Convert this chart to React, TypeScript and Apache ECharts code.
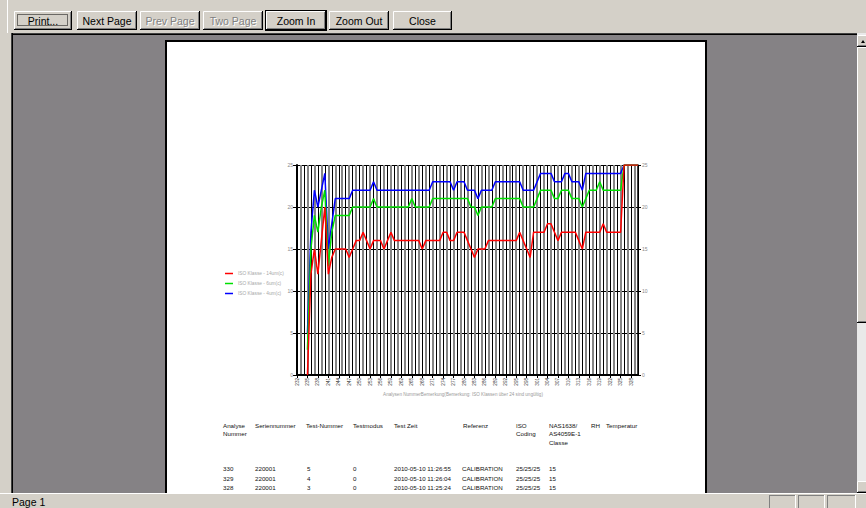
import React, { useEffect, useRef } from "react";
import * as echarts from "echarts";

// ---- data ----
const analyseNummer: string[] = [
  "232", "233", "234", "235", "236", "237", "238", "239", "240", "241",
  "242", "243", "244", "245", "246", "247", "248", "249", "250", "251",
  "252", "253", "254", "255", "256", "257", "258", "259", "260", "261",
  "262", "263", "264", "265", "266", "267", "268", "269", "270", "271",
  "272", "273", "274", "275", "276", "277", "278", "279", "280", "281",
  "282", "283", "284", "285", "286", "287", "288", "289", "290", "291",
  "292", "293", "294", "295", "296", "297", "298", "299", "300", "301",
  "302", "303", "304", "305", "306", "307", "308", "309", "310", "311",
  "312", "313", "314", "315", "316", "317", "318", "319", "320", "321",
  "322", "323", "324", "325", "326", "327", "328", "329", "330",
];

const iso14um: (number | null)[] = [
  null, null, null, 0, 12, 15, 12, 16, 20, 12,
  14, 15, 15, 15, 15, 14, 15, 16, 16, 17,
  16, 15, 16, 16, 16, 15, 16, 17, 16, 16,
  16, 16, 16, 16, 16, 16, 15, 16, 16, 16,
  16, 16, 17, 17, 16, 16, 17, 17, 17, 16,
  15, 14, 15, 15, 15, 16, 16, 16, 16, 16,
  16, 16, 16, 16, 17, 16, 15, 14, 17, 17,
  17, 17, 18, 18, 17, 16, 17, 17, 17, 17,
  17, 16, 15, 17, 17, 17, 17, 17, 18, 17,
  17, 17, 17, 17, 25, 25, 25, 25, 25,
];

const iso6um: (number | null)[] = [
  null, null, null, 3, 15, 19, 17, 20, 22, 13,
  17, 19, 19, 19, 19, 19, 20, 20, 20, 20,
  20, 20, 21, 20, 20, 20, 20, 20, 20, 20,
  20, 20, 20, 21, 20, 20, 20, 20, 20, 21,
  21, 21, 21, 21, 21, 21, 21, 21, 21, 21,
  20, 20, 19, 20, 20, 20, 20, 21, 21, 21,
  21, 21, 21, 21, 21, 20, 20, 20, 20, 21,
  22, 22, 22, 22, 21, 21, 22, 22, 22, 21,
  21, 21, 20, 21, 22, 22, 22, 23, 22, 22,
  22, 22, 22, 22, 25, 25, 25, 25, 25,
];

const iso4um: (number | null)[] = [
  null, null, null, 5, 17, 22, 20, 22, 24, 15,
  18, 21, 21, 21, 21, 21, 22, 22, 22, 22,
  22, 22, 23, 22, 22, 22, 22, 22, 22, 22,
  22, 22, 22, 22, 22, 22, 22, 22, 22, 23,
  23, 23, 23, 23, 23, 22, 23, 23, 23, 22,
  22, 22, 21, 22, 22, 22, 22, 23, 23, 23,
  23, 23, 23, 23, 23, 22, 22, 22, 22, 23,
  24, 24, 24, 24, 23, 23, 23, 24, 24, 23,
  23, 23, 22, 24, 24, 24, 24, 24, 24, 24,
  24, 24, 24, 24, 25, 25, 25, 25, 25,
];

const seriesNames: string[] = [
  "ISO Klasse - 14um(c)",
  "ISO Klasse - 6um(c)",
  "ISO Klasse - 4um(c)",
];

const xAxisTitle = "Analysen NummerBemerkung(Bemerkung: ISO Klassen über 24 sind ungültig)";

const tableHeaders: string[][] = [
  ["Analyse", "Nummer"],
  ["Seriennummer"],
  ["Test-Nummer"],
  ["Testmodus"],
  ["Test Zeit"],
  ["Referenz"],
  ["ISO", "Coding"],
  ["NAS1638/", "AS4059E-1", "Classe"],
  ["RH"],
  ["Temperatur"],
];

const tableRows: string[][] = [
  ["330", "220001", "5", "0", "2010-05-10 11:26:55", "CALIBRATION", "25/25/25", "15"],
  ["329", "220001", "4", "0", "2010-05-10 11:26:04", "CALIBRATION", "25/25/25", "15"],
  ["328", "220001", "3", "0", "2010-05-10 11:25:24", "CALIBRATION", "25/25/25", "15"],
];

const toolbarButtons: string[] = ["Print...", "Next Page", "Prev Page", "Two Page", "Zoom In", "Zoom Out", "Close"];
const statusText = "Page 1";

// ---- layout (positions only) ----
const BTN_X = [14, 77, 140, 203, 266, 329, 393];
const BTN_W = [58, 60, 60, 60, 60, 60, 59];
const HEADER_X = [223, 255, 306, 353, 394, 463, 516, 549, 591, 606];
const ROW_X = [223, 255, 307, 353, 394, 462, 516, 549];

const FACE = "#d4d0c8";
const FONT = "Liberation Sans";

export default function App() {
  const ref = useRef<HTMLDivElement>(null);

  useEffect(() => {
    document.body.style.margin = "0";
    const chart = echarts.init(ref.current!, null, { renderer: "svg", width: 866, height: 508 });

    const G: any[] = [];
    const rect = (x: number, y: number, w: number, h: number, fill: string, stroke?: string, lw = 1, z = -10) =>
      G.push({ type: "rect", z, shape: { x, y, width: w, height: h }, style: { fill, stroke: stroke || null, lineWidth: lw } });
    const line = (x1: number, y1: number, x2: number, y2: number, stroke: string, lw = 1, z = -9) =>
      G.push({ type: "line", z, shape: { x1, y1, x2, y2 }, style: { stroke, lineWidth: lw } });
    const text = (x: number, y: number, t: string, size: number, fill: string, align = "left", vAlign = "middle", z = 5) =>
      G.push({
        type: "text", z, x, y,
        style: { text: t, fill, fontSize: size, fontFamily: FONT, align, verticalAlign: vAlign },
      });

    const raised = (x: number, y: number, w: number, h: number) => {
      rect(x, y, w, h, FACE);
      line(x + 0.5, y + 0.5, x + w - 1, y + 0.5, "#ffffff");
      line(x + 0.5, y + 0.5, x + 0.5, y + h - 1, "#ffffff");
      line(x, y + h - 0.5, x + w, y + h - 0.5, "#000000");
      line(x + w - 0.5, y, x + w - 0.5, y + h, "#000000");
      line(x + 1, y + h - 1.5, x + w - 1, y + h - 1.5, "#808080");
      line(x + w - 1.5, y + 1, x + w - 1.5, y + h - 1, "#808080");
    };
    const sunken = (x: number, y: number, w: number, h: number) => {
      rect(x, y, w, h, FACE);
      line(x, y + 0.5, x + w, y + 0.5, "#808080");
      line(x + 0.5, y, x + 0.5, y + h, "#808080");
      line(x, y + h - 0.5, x + w, y + h - 0.5, "#ffffff");
      line(x + w - 0.5, y, x + w - 0.5, y + h, "#ffffff");
    };

    // window background
    rect(0, 0, 866, 508, FACE, undefined, 1, -20);
    line(7.5, 0, 7.5, 33, "#ffffff", 1);

    // toolbar buttons
    toolbarButtons.forEach((label, i) => {
      const x = BTN_X[i];
      const w = BTN_W[i];
      const y = 11;
      const h = 19;
      if (i === 4) {
        rect(x - 1, y - 1, w + 2, h + 2, "#000000");
      }
      raised(x, y, w, h);
      const cx = x + w / 2;
      const cy = y + h / 2 + 0.5;
      if (i === 2 || i === 3) {
        text(cx + 1, cy + 1, label, 10.5, "#ffffff", "center");
        text(cx, cy, label, 10.5, "#808080", "center");
      } else {
        text(cx, cy, label, 10.5, "#000000", "center");
      }
      if (i === 0) {
        G.push({
          type: "rect", z: -8, shape: { x: x + 3.5, y: y + 3.5, width: w - 8, height: h - 8 },
          style: { fill: null, stroke: "#000", lineWidth: 1, lineDash: [1, 1] },
        });
      }
    });

    // preview area
    rect(11, 33, 846, 460, "#858285", undefined, 1, -15);
    line(11, 33.5, 857, 33.5, "#404040", 1, -14);
    line(11, 34.5, 857, 34.5, "#000000", 1, -14);
    line(11.5, 33, 11.5, 493, "#404040", 1, -14);
    line(12.5, 33, 12.5, 493, "#000000", 1, -14);

    // page
    rect(166, 41, 540, 460, "#ffffff", "#000000", 2, -12);

    // vertical scrollbar
    rect(857, 33, 9, 460, "#e9e9e9", undefined, 1, -11);
    raised(857, 35, 11, 12);
    G.push({ type: "polygon", z: -8, shape: { points: [[861, 43], [865, 43], [863, 40]] }, style: { fill: "#000" } });
    raised(857, 47, 11, 276);
    raised(857, 481, 11, 12);

    // status bar
    rect(0, 493, 866, 15, FACE, undefined, 1, -11);
    line(0, 493.5, 866, 493.5, "#ffffff", 1, -10);
    text(12, 501.5, statusText, 10.5, "#000000", "left");
    sunken(769, 495, 27, 14);
    sunken(798, 495, 27, 14);
    sunken(827, 495, 29, 14);

    // x axis title
    text(463, 394.5, xAxisTitle, 4.6, "#9a9a9a", "center");

    // table
    tableHeaders.forEach((lines, c) => {
      lines.forEach((t, r) => text(HEADER_X[c], 425 + r * 8.5, t, 6.2, "#111111", "left"));
    });
    tableRows.forEach((row, r) => {
      row.forEach((t, c) => text(ROW_X[c], 468.5 + r * 9.5, t, 6.2, "#111111", "left"));
    });

    const lineSeries = (name: string, data: (number | null)[], color: string) => ({
      name,
      type: "line",
      data,
      showSymbol: false,
      symbol: "none",
      connectNulls: false,
      lineStyle: { color, width: 1.5 },
      itemStyle: { color },
    });

    const option: any = {
      animation: false,
      graphic: G,
      legend: {
        orient: "vertical",
        left: 220,
        top: 266,
        itemWidth: 8,
        itemHeight: 1.5,
        itemGap: 5,
        icon: "rect",
        data: seriesNames,
        textStyle: { fontSize: 4.8, color: "#a8a8a8", fontFamily: FONT },
      },
      grid: { left: 297, top: 165, width: 341, height: 210, containLabel: false },
      xAxis: [
        {
          type: "category",
          data: analyseNummer,
          boundaryGap: false,
          position: "bottom",
          axisLine: { show: true, onZero: false, lineStyle: { color: "#000", width: 2 } },
          axisTick: { show: true, interval: 2, length: 3, lineStyle: { color: "#000", width: 1 } },
          axisLabel: { interval: 2, rotate: 90, fontSize: 4.6, color: "#333", margin: 3, fontFamily: FONT },
          splitLine: {
            show: true,
            interval: (i: number) => i % 2 === 0,
            lineStyle: { color: "#000000", width: 1 },
          },
        },
        {
          type: "category",
          data: analyseNummer,
          boundaryGap: false,
          position: "bottom",
          axisLine: { show: false },
          axisTick: { show: false },
          axisLabel: { show: false },
          splitLine: {
            show: true,
            interval: (i: number) => i % 2 === 1,
            lineStyle: { color: "#858585", width: 2 },
          },
        },
      ],
      yAxis: [
        {
          type: "value",
          min: 0,
          max: 25,
          interval: 5,
          position: "left",
          axisLine: { show: true, lineStyle: { color: "#000", width: 2 } },
          axisTick: { show: true, length: 4, lineStyle: { color: "#000" } },
          axisLabel: { fontSize: 5, color: "#8a8a8a", margin: 4, fontFamily: FONT },
          splitLine: { show: true, lineStyle: { color: "#000", width: 1 } },
        },
        {
          type: "value",
          min: 0,
          max: 25,
          interval: 5,
          position: "right",
          axisLine: { show: true, lineStyle: { color: "#000", width: 1.5 } },
          axisTick: { show: true, length: 3, lineStyle: { color: "#000" } },
          axisLabel: { fontSize: 5, color: "#8a8a8a", margin: 4, fontFamily: FONT },
          splitLine: { show: false },
        },
      ],
      series: [
        lineSeries(seriesNames[2], iso4um, "#0000ff"),
        lineSeries(seriesNames[1], iso6um, "#00e000"),
        lineSeries(seriesNames[0], iso14um, "#ff0000"),
      ],
    };

    chart.setOption(option);
    return () => chart.dispose();
  }, []);

  return <div ref={ref} style={{ width: 866, height: 508 }} />;
}
